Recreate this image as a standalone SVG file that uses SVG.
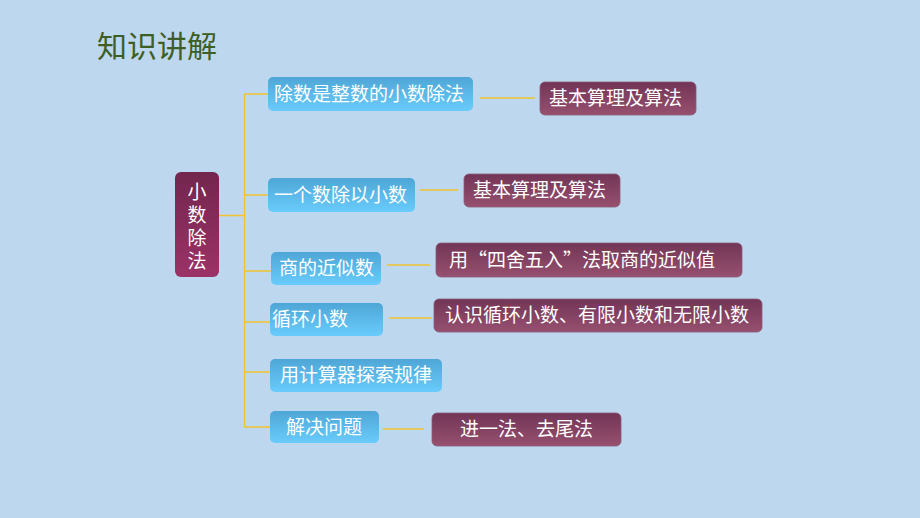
<svg xmlns="http://www.w3.org/2000/svg" width="920" height="518" viewBox="0 0 920 518">
<defs>
<linearGradient id="gb" x1="0" y1="0" x2="0" y2="1"><stop offset="0" stop-color="#4EA6D6"/><stop offset="1" stop-color="#69CCFC"/></linearGradient>
<linearGradient id="gm" x1="0" y1="0" x2="0" y2="1"><stop offset="0" stop-color="#723556"/><stop offset="1" stop-color="#97506F"/></linearGradient>
<linearGradient id="gr" x1="0" y1="0" x2="0" y2="1"><stop offset="0" stop-color="#72264E"/><stop offset="1" stop-color="#9C3267"/></linearGradient>
<style>
.b{fill:url(#gb);}
.m{fill:url(#gm);stroke:#8C5A76;stroke-width:0.8;}
.t{font-family:"Noto Sans CJK SC","Noto Sans",sans-serif;font-size:19px;fill:#FFFFFF;}
.c{stroke:#F2C230;stroke-width:1.3;fill:none;}
</style>
</defs>
<rect width="920" height="518" fill="#BDD7EE"/>
<text x="97" y="57" font-family="Noto Sans CJK SC,sans-serif" font-size="30" fill="#3E5E23">知识讲解</text>
<g id="connectors">
<path class="c" d="M219 215.5H244.5M244.5 94V427M244.5 94H268M244.5 195H268M244.5 271H271M244.5 322H270M244.5 372H270M244.5 427H270"/>
<path class="c" d="M480 98H535M420 190H458M387 265H430M389 318H432M383 429H424"/>
</g>
<g id="root">
<rect x="175" y="172" width="44" height="105" rx="6" fill="url(#gr)"/>
<text class="t" x="197" y="182" font-size="20" letter-spacing="4" style="writing-mode:vertical-rl">小数除法</text>
</g>
<g id="n1"><rect class="b" x="268" y="77" width="205" height="34" rx="5"/><text class="t" x="274" y="101">除数是整数的小数除法</text></g>
<g id="n2"><rect class="b" x="268" y="178" width="147" height="34" rx="5"/><text class="t" x="274" y="202">一个数除以小数</text></g>
<g id="n3"><rect class="b" x="271" y="252" width="110" height="33" rx="5"/><text class="t" x="279" y="275">商的近似数</text></g>
<g id="n4"><rect class="b" x="270" y="303" width="113" height="33" rx="5"/><text class="t" x="272" y="326">循环小数</text></g>
<g id="n5"><rect class="b" x="270" y="359" width="172" height="33" rx="5"/><text class="t" x="280" y="382">用计算器探索规律</text></g>
<g id="n6"><rect class="b" x="270" y="411" width="109" height="32" rx="5"/><text class="t" x="286" y="434">解决问题</text></g>
<g id="r1"><rect class="m" x="540" y="82" width="156" height="33" rx="5"/><text class="t" x="549" y="105">基本算理及算法</text></g>
<g id="r2"><rect class="m" x="464" y="174" width="156" height="33" rx="5"/><text class="t" x="473" y="197">基本算理及算法</text></g>
<g id="r3"><rect class="m" x="436" y="243" width="306" height="34" rx="5"/><text class="t" x="449" y="267">用“四舍五入”法取商的近似值</text></g>
<g id="r4"><rect class="m" x="434" y="299" width="328" height="33" rx="5"/><text class="t" x="445" y="322">认识循环小数、有限小数和无限小数</text></g>
<g id="r6"><rect class="m" x="432" y="413" width="189" height="33" rx="5"/><text class="t" x="460" y="436">进一法、去尾法</text></g>
</svg>
